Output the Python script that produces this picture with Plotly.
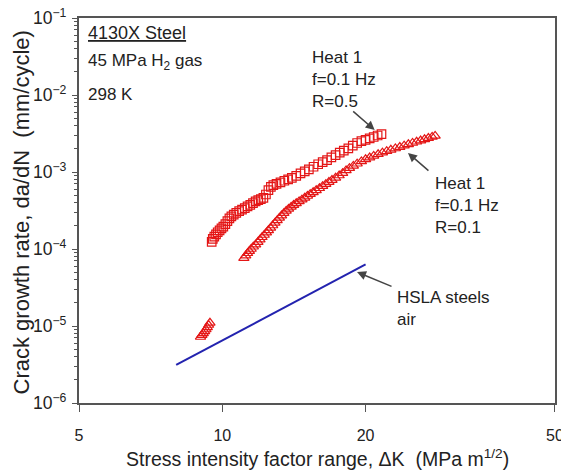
import math
import plotly.graph_objects as go

# R=0.5 (squares)
dk_r05 = [9.50, 9.55, 9.62, 9.70, 9.78, 9.87, 9.96, 10.05, 10.15, 10.25, 10.35, 10.45, 10.57, 10.70,
          10.85, 11.00, 11.15, 11.30, 11.45, 11.60, 11.75, 11.90, 12.05, 12.20, 12.35, 12.50, 12.65,
          12.80, 13.00, 13.25, 13.50, 13.75, 14.00, 14.30, 14.60, 14.90, 15.20, 15.55, 15.90, 16.25,
          16.60, 16.95, 17.30, 17.65, 18.00, 18.40, 18.80, 19.20, 19.60, 20.00, 20.40, 20.80, 21.20, 21.60]
da_r05 = [1.24e-4, 1.35e-4, 1.45e-4, 1.55e-4, 1.65e-4, 1.75e-4, 1.85e-4, 1.95e-4, 2.10e-4, 2.30e-4,
          2.50e-4, 2.65e-4, 2.80e-4, 2.95e-4, 3.10e-4, 3.25e-4, 3.40e-4, 3.58e-4, 3.75e-4, 3.95e-4,
          4.15e-4, 4.30e-4, 4.45e-4, 4.60e-4, 5.10e-4, 5.80e-4, 6.40e-4, 6.75e-4, 7.00e-4, 7.35e-4,
          7.70e-4, 8.00e-4, 8.40e-4, 8.90e-4, 9.60e-4, 1.02e-3, 1.08e-3, 1.17e-3, 1.26e-3, 1.34e-3,
          1.43e-3, 1.55e-3, 1.66e-3, 1.78e-3, 1.90e-3, 2.03e-3, 2.20e-3, 2.38e-3, 2.52e-3, 2.62e-3,
          2.73e-3, 2.85e-3, 2.98e-3, 3.10e-3]

# R=0.1 (triangles)
dk_r01 = [11.10, 11.20, 11.30, 11.40, 11.50, 11.62, 11.75, 11.88, 12.00, 12.12, 12.25, 12.38, 12.50,
          12.63, 12.76, 12.90, 13.04, 13.18, 13.32, 13.47, 13.62, 13.78, 13.95, 14.12, 14.30, 14.50,
          14.70, 14.90, 15.10, 15.30, 15.52, 15.75, 16.00, 16.25, 16.50, 16.75, 17.00, 17.30, 17.60,
          17.90, 18.20, 18.50, 18.85, 19.20, 19.60, 20.00, 20.40, 20.80, 21.25, 21.70, 22.15, 22.60,
          23.10, 23.60, 24.10, 24.60, 25.10, 25.60, 26.10, 26.60, 27.10, 27.60, 28.00]
da_r01 = [7.6e-5, 8.2e-5, 8.8e-5, 9.4e-5, 1.00e-4, 1.07e-4, 1.14e-4, 1.23e-4, 1.32e-4, 1.42e-4,
          1.52e-4, 1.63e-4, 1.75e-4, 1.88e-4, 2.02e-4, 2.18e-4, 2.35e-4, 2.53e-4, 2.72e-4, 2.92e-4,
          3.12e-4, 3.32e-4, 3.52e-4, 3.72e-4, 3.92e-4, 4.15e-4, 4.38e-4, 4.62e-4, 4.88e-4, 5.15e-4,
          5.45e-4, 5.78e-4, 6.15e-4, 6.55e-4, 6.95e-4, 7.40e-4, 7.85e-4, 8.40e-4, 9.00e-4, 9.65e-4,
          1.05e-3, 1.12e-3, 1.20e-3, 1.28e-3, 1.37e-3, 1.46e-3, 1.54e-3, 1.62e-3, 1.70e-3, 1.78e-3,
          1.86e-3, 1.94e-3, 2.02e-3, 2.11e-3, 2.20e-3, 2.29e-3, 2.38e-3, 2.47e-3, 2.56e-3, 2.66e-3,
          2.76e-3, 2.86e-3, 2.94e-3]

# small low-rate cluster (triangles)
dk_low = [9.00, 9.06, 9.12, 9.18, 9.24, 9.30, 9.36, 9.42]
da_low = [7.2e-6, 7.6e-6, 8.0e-6, 8.5e-6, 9.0e-6, 9.6e-6, 1.03e-5, 1.10e-5]

# HSLA steels in air (line)
dk_hsla = [8.0, 20.0]
da_hsla = [3.12e-6, 6.33e-5]

x_tickvals = [5, 10, 20, 50]
x_ticktext = ["5", "10", "20", "50"]

x_title = "Stress intensity factor range, \u0394K  (MPa m<sup>1/2</sup>)"
y_title = "Crack growth rate, da/dN  (mm/cycle)"

RED = "rgb(228,22,22)"
TXT = "#222222"
FONT = "Liberation Sans, Arial, sans-serif"

fig = go.Figure()
fig.add_trace(go.Scatter(x=dk_r05, y=da_r05, mode="markers",
                         marker=dict(symbol="square-open", size=8.5, color=RED, line=dict(width=1.2, color=RED))))
fig.add_trace(go.Scatter(x=dk_r01, y=da_r01, mode="markers",
                         marker=dict(symbol="triangle-up-open", size=9, color=RED, line=dict(width=1.2, color=RED))))
fig.add_trace(go.Scatter(x=dk_low, y=da_low, mode="markers",
                         marker=dict(symbol="triangle-up-open", size=9, color=RED, line=dict(width=1.2, color=RED))))
fig.add_trace(go.Scatter(x=dk_hsla, y=da_hsla, mode="lines",
                         line=dict(color="rgb(35,35,175)", width=2)))

fig.update_layout(
    width=561, height=471,
    margin=dict(l=79, r=6, t=18, b=68, autoexpand=False),
    paper_bgcolor="white", plot_bgcolor="white",
    showlegend=False,
    font=dict(family=FONT, color=TXT, size=15),
)
fig.update_xaxes(
    type="log", range=[0.69895, 1.69899], automargin=False,
    tickvals=x_tickvals, ticktext=x_ticktext, ticklabeloverflow="allow",
    ticks="outside", ticklen=7, tickcolor="#555", tickwidth=1.2,
    showline=True, linecolor="#555", linewidth=1.5, mirror=True,
    showgrid=False, zeroline=False,
    tickfont=dict(size=16, color=TXT, family=FONT), ticklabelstandoff=10,
)
fig.update_yaxes(
    type="log", range=[-6, -1], dtick=1, exponentformat="power", automargin=False,
    ticks="outside", ticklen=5, tickcolor="#555", tickwidth=1.2,
    minor=dict(ticks="outside", ticklen=3, dtick="D1", tickcolor="#555"),
    showline=True, linecolor="#555", linewidth=1.5, mirror=True,
    showgrid=False, zeroline=False,
    tickfont=dict(size=14, color=TXT, family=FONT), ticklabelstandoff=3,
)

# axis titles
fig.add_annotation(text=x_title, xref="paper", yref="paper", x=0.5, y=-0.143,
                   xanchor="center", yanchor="middle", showarrow=False,
                   font=dict(size=19.5, color=TXT, family=FONT))
fig.add_annotation(text=y_title, xref="paper", yref="paper", x=-0.1218, y=0.495,
                   xanchor="center", yanchor="middle", showarrow=False, textangle=-90,
                   font=dict(size=22, color=TXT, family=FONT))

def note(text, x, y, size=17):
    fig.add_annotation(text=text, xref="paper", yref="paper", x=x, y=y,
                       xanchor="left", yanchor="middle", showarrow=False,
                       align="left", font=dict(size=size, color=TXT, family=FONT))

note("<u>4130X Steel</u>", 0.0147, 0.961, size=18)
note("45 MPa H<sub>2</sub> gas", 0.0147, 0.886, size=17)
note("298 K", 0.0147, 0.800, size=17)
note("Heat 1<br>f=0.1 Hz<br>R=0.5", 0.485, 0.840)
note("Heat 1<br>f=0.1 Hz<br>R=0.1", 0.744, 0.514)
note("HSLA steels<br>air", 0.664, 0.245)

def arrow(x, y, ax, ay):
    fig.add_annotation(x=x, y=y, xref="x", yref="y", ax=ax, ay=ay, axref="pixel", ayref="pixel",
                       text="", showarrow=True, arrowhead=2, arrowsize=1.2, arrowwidth=1.5,
                       arrowcolor="#444")

arrow(math.log10(20.9), math.log10(3.51e-3), -23, -20)
arrow(math.log10(24.55), math.log10(1.77e-3), 22, 19)
arrow(math.log10(19.19), math.log10(5.02e-5), 36, 15)

fig.write_html("out.html", config={"displayModeBar": False},
               post_script="document.body.style.margin='0';document.body.style.overflow='hidden';")
